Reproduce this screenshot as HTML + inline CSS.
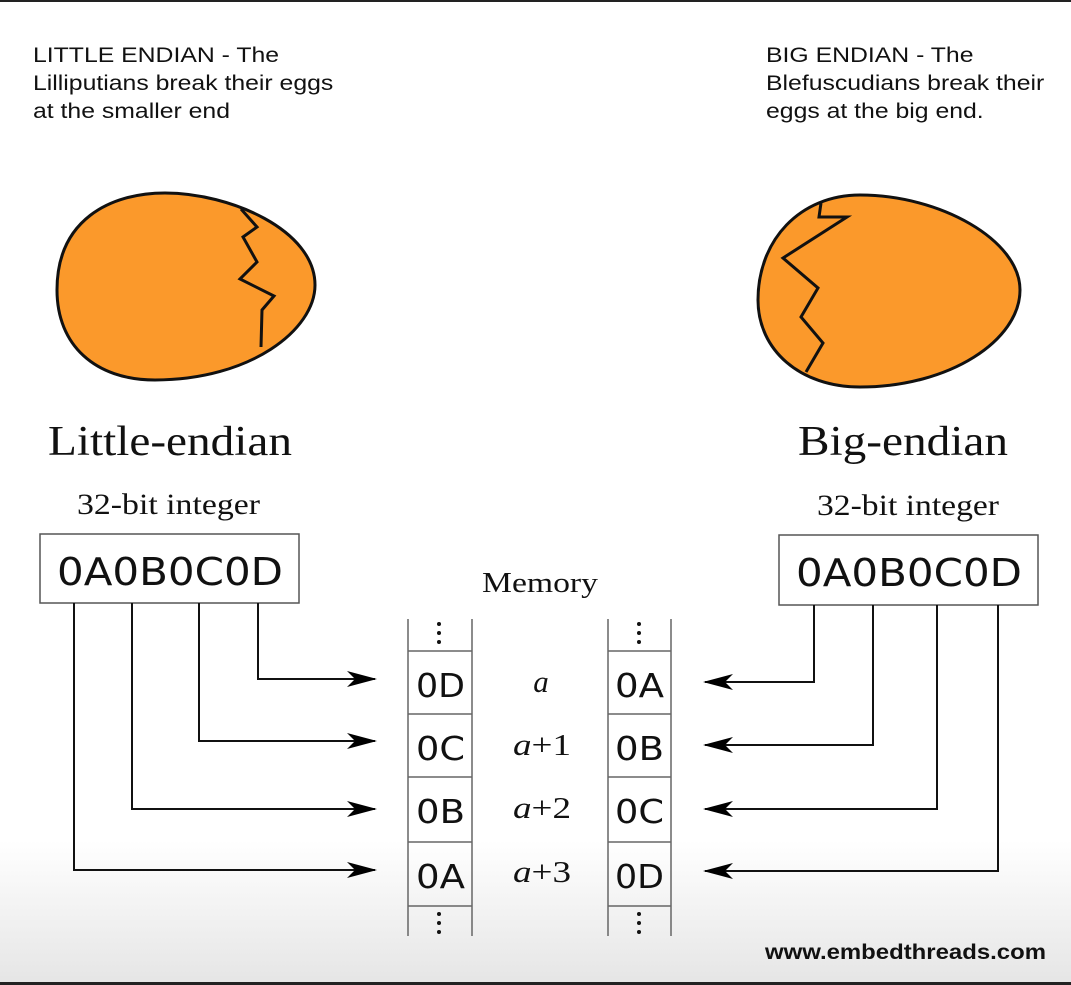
<!DOCTYPE html>
<html><head><meta charset="utf-8"><style>
html,body{margin:0;padding:0}
body{width:1071px;height:985px;position:relative;overflow:hidden;background:linear-gradient(to bottom,#fff 0,#fff 840px,#e6e6e6 980px);font-family:"Liberation Sans",sans-serif}
.t{position:absolute;color:#111;transform:scaleX(1.18);transform-origin:0 0;white-space:nowrap}
</style></head><body>
<div style="position:absolute;left:0;top:0;width:1071px;height:2px;background:#222"></div>
<div style="position:absolute;left:0;top:982px;width:1071px;height:3px;background:#222"></div>
<div class="t" style="left:33px;top:42px;font-size:21px;line-height:28px">LITTLE ENDIAN - The<br>Lilliputians break their eggs<br>at the smaller end</div>
<div class="t" style="left:766px;top:42px;font-size:21px;line-height:28px">BIG ENDIAN - The<br>Blefuscudians break their<br>eggs at the big end.</div>
<svg width="1071" height="985" style="position:absolute;left:0;top:0" xmlns="http://www.w3.org/2000/svg">
<defs><marker id="ar" markerWidth="30" markerHeight="16" refX="28" refY="8" orient="auto" markerUnits="userSpaceOnUse"><path d="M0,0 L30,8 L0,16 L8,8 Z" fill="#000"/></marker></defs>
<path d="M57,290 C57,220 110,193 165,193 C230,193 315,230 315,285 C315,330 250,380 155,380 C95,380 57,345 57,290 Z" fill="#fb992b" stroke="#111" stroke-width="3"/>
<polyline points="241,209 257,227 243,237 257,262 240,279 274,296 262,310 261,347" fill="none" stroke="#111" stroke-width="3"/>
<path d="M758,300 C758,240 800,195 860,195 C940,195 1020,240 1020,290 C1020,340 950,387 860,387 C800,387 758,350 758,300 Z" fill="#fb992b" stroke="#111" stroke-width="3"/>
<polyline points="821,203 819,217 847,217 783,258 818,288 801,317 823,343 806,372" fill="none" stroke="#111" stroke-width="3"/>
<g font-family="Liberation Serif,serif" fill="#111" lengthAdjust="spacingAndGlyphs">
<text x="48" y="455" font-size="42" textLength="244" lengthAdjust="spacingAndGlyphs">Little-endian</text>
<text x="77" y="514" font-size="30" textLength="183" lengthAdjust="spacingAndGlyphs">32-bit integer</text>
<text x="798" y="455" font-size="42" textLength="210" lengthAdjust="spacingAndGlyphs">Big-endian</text>
<text x="817" y="515" font-size="30" textLength="182" lengthAdjust="spacingAndGlyphs">32-bit integer</text>
<text x="482" y="592" font-size="28" textLength="116" lengthAdjust="spacingAndGlyphs">Memory</text>
</g>
<rect x="40" y="534" width="259" height="69" fill="#fff" stroke="#555" stroke-width="1.5"/>
<text x="57" y="585" font-family="DejaVu Sans,sans-serif" font-size="38" textLength="226" lengthAdjust="spacingAndGlyphs" fill="#111">0A0B0C0D</text>
<rect x="779" y="535" width="259" height="70" fill="#fff" stroke="#555" stroke-width="1.5"/>
<text x="796" y="586" font-family="DejaVu Sans,sans-serif" font-size="38" textLength="226" lengthAdjust="spacingAndGlyphs" fill="#111">0A0B0C0D</text>
<g stroke="#111" stroke-width="2" fill="none">
<polyline points="258,603 258,679 375,679" marker-end="url(#ar)"/>
<polyline points="199,603 199,741 375,741" marker-end="url(#ar)"/>
<polyline points="132,603 132,809 375,809" marker-end="url(#ar)"/>
<polyline points="74,603 74,870 375,870" marker-end="url(#ar)"/>
<polyline points="814,605 814,682 705,682" marker-end="url(#ar)"/>
<polyline points="873,605 873,745 705,745" marker-end="url(#ar)"/>
<polyline points="937,605 937,809 705,809" marker-end="url(#ar)"/>
<polyline points="998,605 998,871 705,871" marker-end="url(#ar)"/>
</g>
<g stroke="#666" stroke-width="1.5">
<line x1="408" y1="619" x2="408" y2="936"/><line x1="472" y1="619" x2="472" y2="936"/>
<line x1="608" y1="619" x2="608" y2="936"/><line x1="671" y1="619" x2="671" y2="936"/>
<line x1="408" y1="651" x2="472" y2="651"/><line x1="408" y1="714" x2="472" y2="714"/><line x1="408" y1="777" x2="472" y2="777"/><line x1="408" y1="842" x2="472" y2="842"/><line x1="408" y1="906" x2="472" y2="906"/>
<line x1="608" y1="651" x2="671" y2="651"/><line x1="608" y1="714" x2="671" y2="714"/><line x1="608" y1="777" x2="671" y2="777"/><line x1="608" y1="842" x2="671" y2="842"/><line x1="608" y1="906" x2="671" y2="906"/>
</g>
<g fill="#111">
<circle cx="439" cy="624" r="2"/><circle cx="439" cy="633" r="2"/><circle cx="439" cy="642" r="2"/>
<circle cx="439" cy="914" r="2"/><circle cx="439" cy="923" r="2"/><circle cx="439" cy="932" r="2"/>
<circle cx="639" cy="624" r="2"/><circle cx="639" cy="633" r="2"/><circle cx="639" cy="642" r="2"/>
<circle cx="639" cy="914" r="2"/><circle cx="639" cy="923" r="2"/><circle cx="639" cy="932" r="2"/>
</g>
<g font-family="DejaVu Sans,sans-serif" font-size="33" fill="#111">
<text x="416" y="697" textLength="49" lengthAdjust="spacingAndGlyphs">0D</text><text x="416" y="760" textLength="49" lengthAdjust="spacingAndGlyphs">0C</text><text x="416" y="823" textLength="49" lengthAdjust="spacingAndGlyphs">0B</text><text x="416" y="888" textLength="49" lengthAdjust="spacingAndGlyphs">0A</text>
<text x="615" y="697" textLength="49" lengthAdjust="spacingAndGlyphs">0A</text><text x="615" y="760" textLength="49" lengthAdjust="spacingAndGlyphs">0B</text><text x="615" y="823" textLength="49" lengthAdjust="spacingAndGlyphs">0C</text><text x="615" y="888" textLength="49" lengthAdjust="spacingAndGlyphs">0D</text>
</g>
<g font-family="Liberation Serif,serif" font-size="31" fill="#111">
<text x="541" y="692" font-style="italic" text-anchor="middle">a</text>
<text x="513" y="755" textLength="58" lengthAdjust="spacingAndGlyphs"><tspan font-style="italic">a</tspan>+1</text>
<text x="513" y="818" textLength="58" lengthAdjust="spacingAndGlyphs"><tspan font-style="italic">a</tspan>+2</text>
<text x="513" y="882" textLength="58" lengthAdjust="spacingAndGlyphs"><tspan font-style="italic">a</tspan>+3</text>
</g>
<text x="765" y="959" font-family="Liberation Sans,sans-serif" font-size="21" font-weight="bold" textLength="281" lengthAdjust="spacingAndGlyphs" fill="#111">www.embedthreads.com</text>
</svg>
</body></html>
